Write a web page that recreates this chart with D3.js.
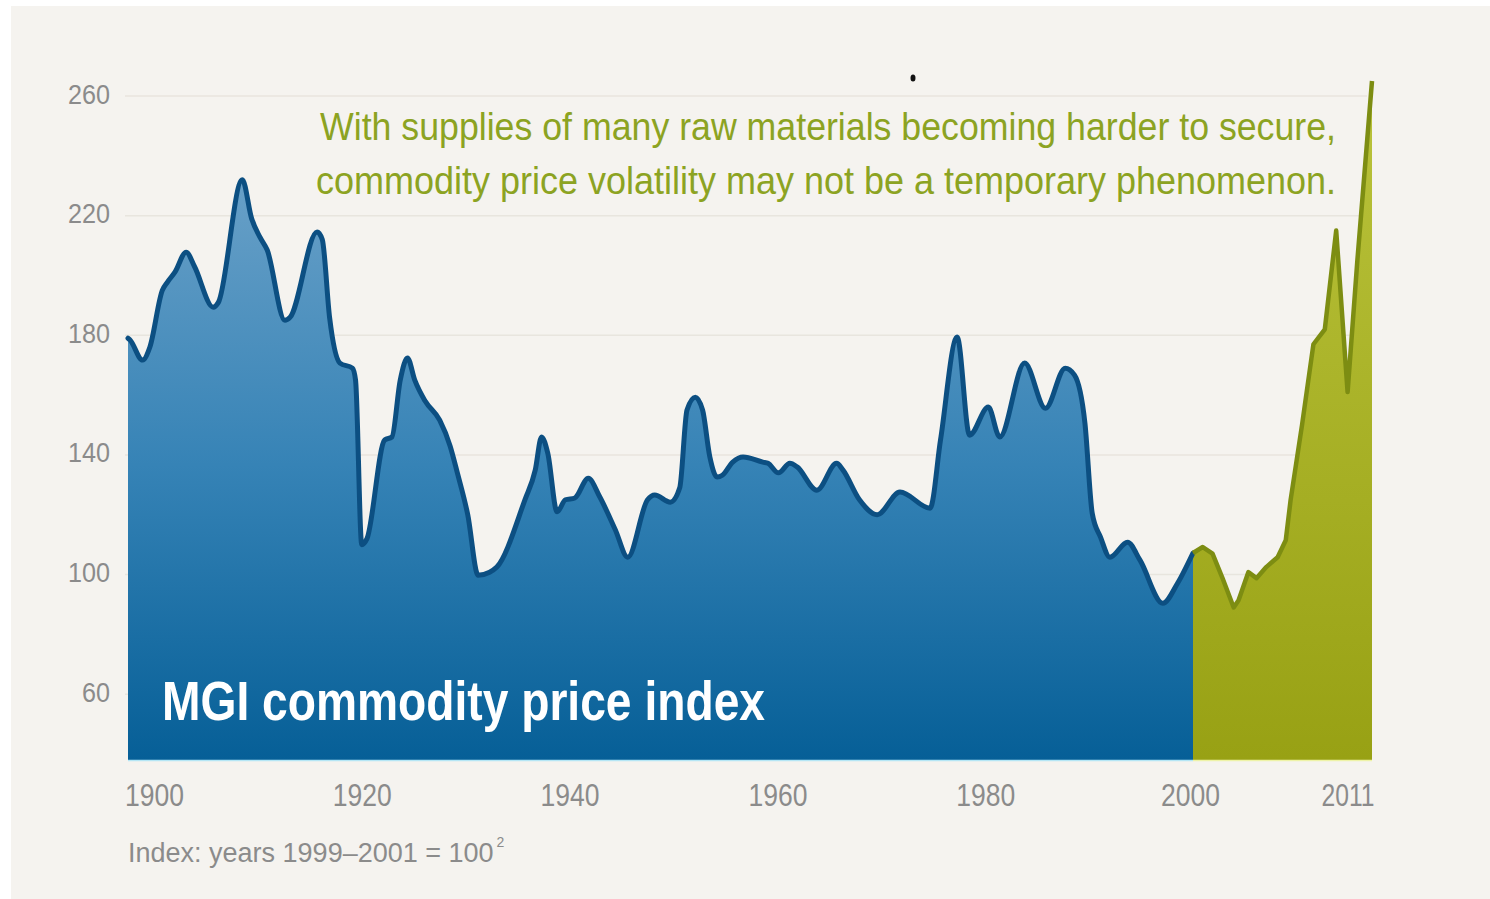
<!DOCTYPE html>
<html>
<head>
<meta charset="utf-8">
<script src="https://cdn.jsdelivr.net/npm/d3@7"></script>
<style>
  html, body { margin: 0; padding: 0; background: #ffffff; }
  svg { display: block; }
</style>
</head>
<body>
<div id="chart"></div>
<script>
// ---------- DATA ----------
const blueYears = [1897.5, 1897.7, 1898.9, 1899.6, 1900.8, 1901.3, 1902.0, 1903.1, 1903.9, 1905.7, 1906.2,
  1908.5, 1909.4, 1910.2, 1910.9, 1912.6, 1913.1, 1915.7, 1916.2, 1916.9, 1917.9, 1919.1, 1919.4,
  1920.0, 1920.5, 1922.2, 1922.9, 1923.7, 1924.4, 1925.1, 1926.1, 1927.5, 1928.5, 1929.2, 1930.2,
  1931.2, 1932.3, 1933.0, 1935.7, 1936.7, 1937.3, 1937.9, 1938.8, 1939.6, 1940.5, 1941.8, 1942.9,
  1944.4, 1945.6, 1947.5, 1948.2, 1949.7, 1950.6, 1951.3, 1952.1, 1952.8, 1953.5, 1954.2, 1954.7,
  1955.7, 1956.7, 1958.6, 1959.1, 1960.1, 1961.2, 1961.9, 1963.8, 1965.7, 1966.3, 1967.9, 1969.6,
  1971.8, 1974.7, 1975.7, 1977.3, 1978.5, 1980.3, 1981.4, 1983.8, 1985.8, 1987.7, 1988.6, 1989.6,
  1990.3, 1991.1, 1992.0, 1993.7, 1994.9, 1997.1, 1998.5, 2000.0];
const blueValues = [179, 178.4, 171.7, 176, 195, 197.8, 201, 207.8, 203, 189.4, 191,
  232, 219, 212.8, 208.5, 185, 186, 214.5, 212, 186, 170.7, 169, 165,
  110, 112, 145, 146, 165, 172.4, 165, 158, 151.6, 143, 134, 120,
  99.8, 100.8, 102.5, 125, 135, 146, 140.6, 121, 125, 125.6, 132.2, 126,
  115, 105.8, 125, 126.6, 124.2, 129, 155, 159.3, 155, 139.3, 132.6, 133.2,
  137.6, 139.3, 137.6, 137.2, 134, 137.2, 136, 128.2, 137.2, 135, 125, 120,
  127.6, 122.2, 145, 179.4, 146.6, 156, 146, 170.7, 155.6, 169, 166.7, 150.6,
  120.5, 112.5, 105.8, 110.8, 104.8, 90.4, 97, 107.2];

const greenYears = [2000.0, 2000.6, 2001.2, 2001.8, 2002.5, 2002.8, 2003.4, 2003.9, 2004.5, 2005.2,
  2005.7, 2006.0, 2006.7, 2007.4, 2008.1, 2008.8, 2009.5, 2010.1, 2011.0];
const greenValues = [107.2, 109.2, 107, 99, 89, 91.4, 100.8, 98.8, 102.5, 105.8,
  111.5, 125, 150, 177, 182, 215, 161, 205, 265];

const yTicks = [60, 100, 140, 180, 220, 260];
const xTicks = [1900, 1920, 1940, 1960, 1980, 2000, 2011];

const titleText = "MGI commodity price index";
const noteLines = ["With supplies of many raw materials becoming harder to secure,",
                   "commodity price volatility may not be a temporary phenomenon."];
const footText = "Index: years 1999\u20132001 = 100";
const footSup = "2";

// ---------- CHART ----------
const W = 1490, H = 899;
const svg = d3.select("#chart").append("svg").attr("width", W).attr("height", H);

svg.append("rect").attr("width", W).attr("height", H).attr("fill", "#ffffff");
svg.append("rect").attr("x", 11).attr("y", 6).attr("width", W - 11).attr("height", H - 6).attr("fill", "#f5f3ef");

const x = d3.scaleLinear().domain([1897.5, 2000, 2011]).range([128, 1193, 1372]);
const y = d3.scaleLinear().domain([38, 260]).range([760, 96]);

const defs = svg.append("defs");
const gb = defs.append("linearGradient").attr("id", "gBlue").attr("gradientUnits", "userSpaceOnUse")
  .attr("x1", 0).attr("y1", 170).attr("x2", 0).attr("y2", 760);
gb.append("stop").attr("offset", 0).attr("stop-color", "#6aa1c8");
gb.append("stop").attr("offset", 0.5).attr("stop-color", "#3683b6");
gb.append("stop").attr("offset", 1).attr("stop-color", "#065f97");
const gg = defs.append("linearGradient").attr("id", "gGreen").attr("gradientUnits", "userSpaceOnUse")
  .attr("x1", 0).attr("y1", 100).attr("x2", 0).attr("y2", 760);
gg.append("stop").attr("offset", 0).attr("stop-color", "#b9c23a");
gg.append("stop").attr("offset", 1).attr("stop-color", "#98a114");

// gridlines
svg.append("g").selectAll("line").data(yTicks).join("line")
  .attr("x1", 125).attr("x2", 1367)
  .attr("y1", d => y(d)).attr("y2", d => y(d))
  .attr("stroke", "#e8e5de").attr("stroke-width", 1.5);

const blue = blueYears.map((t, i) => ({ t, v: blueValues[i] }));
const green = greenYears.map((t, i) => ({ t, v: greenValues[i] }));

const areaGen = d3.area().x(d => x(d.t)).y0(y(38)).y1(d => y(d.v)).curve(d3.curveMonotoneX);
const lineGen = d3.line().x(d => x(d.t)).y(d => y(d.v)).curve(d3.curveMonotoneX);
const areaLin = d3.area().x(d => x(d.t)).y0(y(38)).y1(d => y(d.v)).curve(d3.curveLinear);
const lineLin = d3.line().x(d => x(d.t)).y(d => y(d.v)).curve(d3.curveLinear);

svg.append("path").datum(blue).attr("d", areaGen).attr("fill", "url(#gBlue)");
svg.append("path").datum(green).attr("d", areaLin).attr("fill", "url(#gGreen)");

// bottom highlight
svg.append("line").attr("x1", x(1897.5)).attr("x2", x(2000)).attr("y1", 760.5).attr("y2", 760.5)
  .attr("stroke", "#b5e6f5").attr("stroke-width", 1.5);
svg.append("line").attr("x1", x(2000)).attr("x2", x(2011)).attr("y1", 760.5).attr("y2", 760.5)
  .attr("stroke", "#eef3a8").attr("stroke-width", 1.5);

svg.append("path").datum(blue).attr("d", lineGen).attr("fill", "none")
  .attr("stroke", "#0c4f82").attr("stroke-width", 5).attr("stroke-linejoin", "round").attr("stroke-linecap", "round");
svg.append("path").datum(green).attr("d", lineLin).attr("fill", "none")
  .attr("stroke", "#7d8d12").attr("stroke-width", 4.5).attr("stroke-linejoin", "round").attr("stroke-linecap", "butt");

const font = "'Liberation Sans', Arial, Helvetica, sans-serif";

// y axis
const yAxis = svg.append("g").attr("transform", "translate(128,0)")
  .call(d3.axisLeft(y).tickValues(yTicks).tickSize(0).tickPadding(18));
yAxis.select(".domain").remove();
yAxis.selectAll("text").attr("fill", "#8b8b8b").style("font-family", font)
  .style("font-size", "28px").attr("dy", "0.25em")
  .attr("textLength", d => String(d).length * 14).attr("lengthAdjust", "spacingAndGlyphs");

// x axis
const xAxis = svg.append("g").attr("transform", "translate(0,760)")
  .call(d3.axisBottom(x).tickValues(xTicks).tickFormat(d3.format("d")).tickSize(0).tickPadding(24));
xAxis.select(".domain").remove();
xAxis.selectAll("text").attr("fill", "#8b8b8b").style("font-family", font)
  .style("font-size", "31px")
  .attr("textLength", d => (d === 2011 ? 53 : 59)).attr("lengthAdjust", "spacingAndGlyphs");
xAxis.selectAll("text").filter(d => d === 2011).attr("text-anchor", "end").attr("dx", 2);
xAxis.selectAll("text").filter(d => d === 2000).attr("dx", -3);

// annotation
svg.append("g").selectAll("text").data(noteLines).join("text")
  .attr("x", 1336).attr("y", (d, i) => 140 + i * 54)
  .attr("text-anchor", "end")
  .attr("fill", "#8ca322")
  .style("font-family", font).style("font-size", "38px")
  .attr("textLength", (d, i) => (i === 0 ? 1016 : 1020)).attr("lengthAdjust", "spacingAndGlyphs")
  .text(d => d);

// title inside area
svg.append("text").attr("x", 162).attr("y", 720)
  .attr("fill", "#ffffff").style("font-family", font).style("font-weight", "bold")
  .style("font-size", "55px")
  .attr("textLength", 603).attr("lengthAdjust", "spacingAndGlyphs")
  .text(titleText);

// footnote
const ft = svg.append("text").attr("x", 128).attr("y", 862)
  .attr("fill", "#8b8b8b").style("font-family", font).style("font-size", "27px").text(footText);
const ftW = ft.node().getComputedTextLength();
svg.append("text").attr("x", 128 + ftW + 3).attr("y", 847)
  .attr("fill", "#8b8b8b").style("font-family", font).style("font-size", "14px").text(footSup);

// stray dot from reference
svg.append("ellipse").attr("cx", 913).attr("cy", 78).attr("rx", 2.5).attr("ry", 3.5).attr("fill", "#111");
</script>
</body>
</html>
